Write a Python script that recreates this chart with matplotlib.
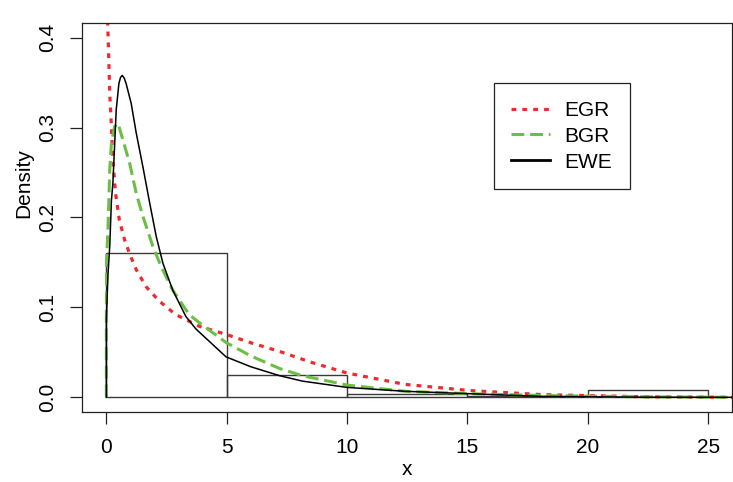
import matplotlib
matplotlib.use("Agg")
import matplotlib.pyplot as plt
from matplotlib.lines import Line2D

plt.rcParams['font.family'] = ['Liberation Sans', 'DejaVu Sans']

# histogram (density scale), bins of width 5
bin_edges = [0, 5, 10, 15, 20, 25]
bin_density = [0.16, 0.025, 0.004, 0.002, 0.008]

# fitted densities, read along x
egr_x = [0.03, 0.055, 0.10, 0.14, 0.21, 0.27, 0.38, 0.54, 0.76, 0.96, 1.24, 1.65, 2.2,
         2.88, 3.86, 4.97, 6.08, 7.2, 8.5, 10.0, 12.4, 15.1, 18.1, 22.5, 26.0]
egr_y = [0.45, 0.416, 0.376, 0.338, 0.301, 0.264, 0.227, 0.197, 0.175, 0.16, 0.142, 0.123, 0.107,
         0.092, 0.079, 0.070, 0.060, 0.051, 0.039, 0.027, 0.0144, 0.0075, 0.003, 0.0005, 0.0]

bgr_x = [0.0, 0.0, 0.01, 0.07, 0.14, 0.21, 0.34, 0.48, 0.69, 0.97, 1.24, 1.52, 1.93, 2.28,
         2.76, 3.44, 3.86, 4.97, 6.0, 7.2, 8.15, 10.0, 12.4, 15.1, 18.1, 22.5, 26.0]
bgr_y = [0.0, 0.09, 0.153, 0.19, 0.253, 0.283, 0.301, 0.305, 0.286, 0.26, 0.227, 0.201, 0.168, 0.145,
         0.119, 0.092, 0.083, 0.061, 0.046, 0.032, 0.024, 0.0136, 0.0067, 0.004, 0.002, 0.0005, 0.0]

ewe_x = [0.0, 0.0, 0.07, 0.14, 0.21, 0.27, 0.34, 0.41, 0.52, 0.59, 0.66, 0.74, 0.82, 1.03,
         1.24, 1.52, 1.8, 2.07, 2.35, 2.76, 3.3, 3.72, 4.97, 6.0, 7.2, 8.15, 10.0, 12.4, 15.1,
         18.1, 22.0, 26.0]
ewe_y = [0.0, 0.088, 0.138, 0.168, 0.219, 0.238, 0.279, 0.32, 0.349, 0.356, 0.358, 0.355, 0.349, 0.327,
         0.294, 0.256, 0.216, 0.179, 0.149, 0.119, 0.090, 0.076, 0.045, 0.034, 0.024, 0.018, 0.011, 0.0067, 0.004,
         0.001, 0.0002, 0.0]

red = '#EE2A2E'
green = '#6CBE47'

fig = plt.figure(figsize=(7.33, 4.82), dpi=100)
ax = fig.add_axes([82.3 / 733, 1 - 411.7 / 482, 650 / 733, 388.4 / 482])

ax.bar(bin_edges[:-1], bin_density, width=5, align='edge', fill=False,
       edgecolor='#3a3a3a', linewidth=1.0)

ax.plot(egr_x, egr_y, color=red, lw=2.3, linestyle=(0, (1.5, 1.9)))
ax.plot(bgr_x, bgr_y, color=green, lw=2.2, linestyle=(0, (4.2, 1.9)))
ax.plot(ewe_x, ewe_y, color='black', lw=1.1)

ax.set_xlim(-1, 26)
ax.set_ylim(-0.016, 0.416)
ax.set_xticks([0, 5, 10, 15, 20, 25])
ax.set_yticks([0.0, 0.1, 0.2, 0.3, 0.4])
ax.set_yticklabels(['0.0', '0.1', '0.2', '0.3', '0.4'])
ax.tick_params(length=8.8, width=0.9, color='#222222', labelsize=15)
ax.tick_params(axis='x', pad=10)
ax.tick_params(axis='y', pad=9, labelrotation=90)
for lab in ax.get_yticklabels():
    lab.set_va('center')
for s in ax.spines.values():
    s.set_color('#222222')
    s.set_linewidth(0.9)

ax.set_xlabel('x', fontsize=15, labelpad=2)
ax.set_ylabel('Density', fontsize=15)
ax.yaxis.set_label_coords(-0.076, 0.589)

handles = [Line2D([], [], color=red, lw=2.3, linestyle=(0, (1.5, 1.9))),
           Line2D([], [], color=green, lw=2.2, linestyle=(0, (4.2, 1.9))),
           Line2D([], [], color='black', lw=2.0)]
leg = ax.legend(handles, ['EGR', 'BGR', 'EWE'], loc='upper left',
                bbox_to_anchor=(0.633, 0.846), borderaxespad=0, fontsize=15,
                handlelength=1.85, handletextpad=0.7, labelspacing=0.33,
                borderpad=0.85, fancybox=False, framealpha=1)
leg.get_frame().set_edgecolor('#222222')
leg.get_frame().set_linewidth(0.9)

fig.savefig('out.png', dpi=100)
